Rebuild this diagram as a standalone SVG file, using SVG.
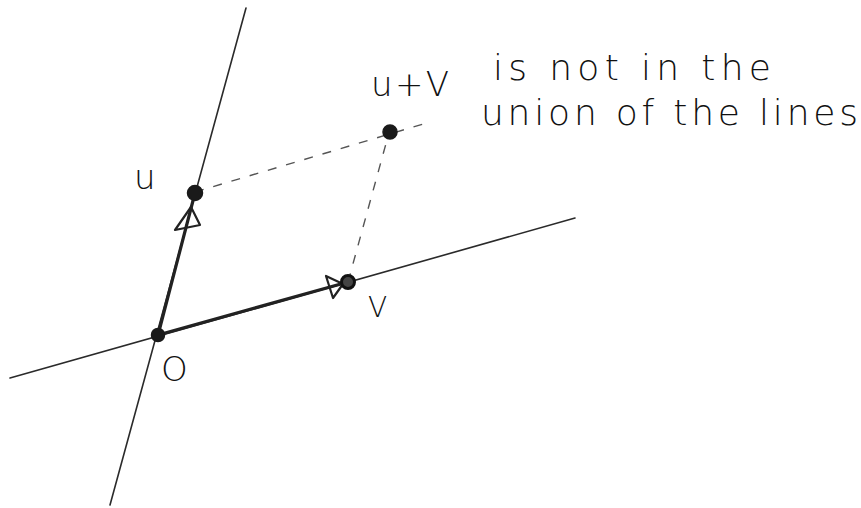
<svg xmlns="http://www.w3.org/2000/svg" width="861" height="508" viewBox="0 0 861 508">
<style>
.line{stroke:#2a2a2a;stroke-width:1.6;fill:none;stroke-linecap:round}
.vec{stroke:#222;stroke-width:3.2;fill:none;stroke-linecap:round}
.dash{stroke:#555;stroke-width:1.4;fill:none;stroke-dasharray:9 10}
.head{stroke:#222;stroke-width:2.2;fill:none;stroke-linejoin:round}
.dot{fill:#1a1a1a;stroke:#1a1a1a;stroke-width:1.5}
.lbl{font-family:"DejaVu Sans","Liberation Sans",sans-serif;fill:#111;font-weight:300}
</style>
<rect width="861" height="508" fill="#ffffff"/>
<g id="connectors">
  <line class="line" x1="246" y1="8" x2="110" y2="505"/>
  <line class="line" x1="10" y1="378" x2="575" y2="218"/>
  <line class="vec" x1="158" y1="335" x2="195" y2="193"/>
  <line class="vec" x1="158" y1="335" x2="348" y2="282"/>
  <line class="dash" x1="195" y1="192" x2="430" y2="122"/>
  <line class="dash" x1="348" y1="282" x2="393" y2="118"/>
  <polygon class="head" points="191,207 175,230 200,225"/>
  <polygon class="head" points="343,284 326,276 333,298"/>
</g>
<g id="node-O">
  <circle class="dot" cx="158" cy="335" r="6.5"/>
  <text class="lbl" x="161" y="381" font-size="34">O</text>
</g>
<g id="node-u">
  <circle class="dot" cx="195" cy="193" r="7.5"/>
  <text class="lbl" x="134" y="189" font-size="34">u</text>
</g>
<g id="node-v">
  <circle cx="348" cy="282" r="6.5" fill="#444" stroke="#111" stroke-width="3"/>
  <text class="lbl" x="368" y="317" font-size="28">V</text>
</g>
<g id="node-uv">
  <circle class="dot" cx="390" cy="132" r="7"/>
  <text class="lbl" x="371" y="96" font-size="34" textLength="78" lengthAdjust="spacing">u+V</text>
</g>
<g id="note">
  <text class="lbl" x="493" y="80" font-size="36" textLength="278" lengthAdjust="spacing">is not in the</text>
  <text class="lbl" x="481" y="125" font-size="36" textLength="377" lengthAdjust="spacing">union of the lines</text>
</g>
</svg>
